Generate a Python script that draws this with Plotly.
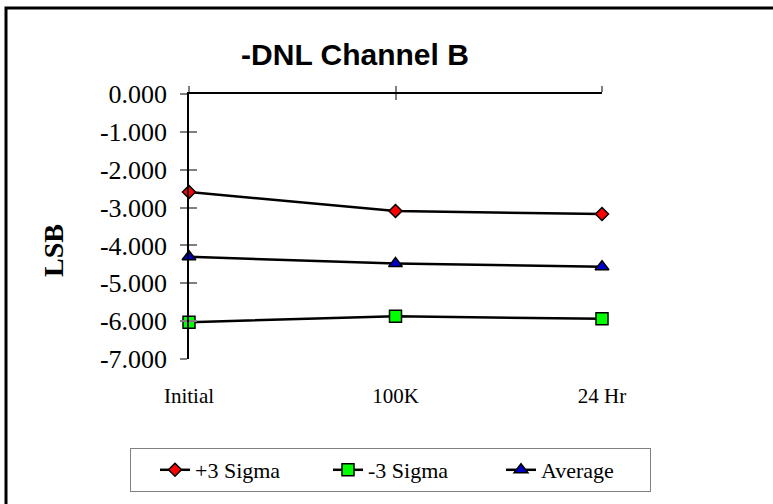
import plotly.graph_objects as go

# data
stages = ["Initial", "100K", "24 Hr"]
plus_3_sigma = [-2.59, -3.09, -3.17]
minus_3_sigma = [-6.03, -5.87, -5.94]
average = [-4.30, -4.48, -4.56]

y_ticks = [0, -1, -2, -3, -4, -5, -6, -7]
y_tick_labels = ["0.000", "-1.000", "-2.000", "-3.000", "-4.000", "-5.000", "-6.000", "-7.000"]

serif = "Liberation Serif, Times New Roman, serif"
W, H = 773, 504
L, R, T, B = 189, 171, 94, 145
pw, ph = W - L - R, H - T - B


def px(x):
    return (x - L) / pw


def py(y):
    return (H - B - y) / ph


def series(name, values, symbol, color, size):
    return go.Scatter(
        x=stages, y=values, name=name, mode="lines+markers",
        line=dict(color="black", width=2.5),
        marker=dict(symbol=symbol, color=color, size=size,
                    line=dict(color="black", width=1.5)),
        cliponaxis=False,
    )


def axis_holder(xa, ya):
    # empty trace so that the overlay axes (crossing tick marks) get drawn
    return go.Scatter(x=stages, y=[None] * len(stages), xaxis=xa, yaxis=ya,
                      mode="lines", showlegend=False, hoverinfo="skip")


fig = go.Figure([
    axis_holder("x2", "y"),
    axis_holder("x3", "y"),
    axis_holder("x", "y2"),
    series("+3 Sigma", plus_3_sigma, "diamond", "#FF0000", 10),
    series("-3 Sigma", minus_3_sigma, "square", "#00FF00", 12),
    series("Average", average, "triangle-up", "#0000C8", 12),
])

tick_gray = "#808080"
fig.update_layout(
    width=W, height=H,
    margin=dict(l=L, r=R, t=T, b=B),
    paper_bgcolor="white", plot_bgcolor="white",
    font=dict(family=serif, color="black"),
    title=dict(text="<b>-DNL Channel B</b>", x=355 / W, y=1 - 54 / H,
               xanchor="center", yanchor="middle",
               font=dict(family="Liberation Sans, Arial, sans-serif", size=30)),
    xaxis=dict(type="category", range=[0, 2], showline=False, showgrid=False,
               zeroline=False, ticks="", tickfont=dict(size=21),
               ticklabelstandoff=22),
    xaxis2=dict(type="category", overlaying="x", anchor="y", side="top",
                range=[0, 2], showline=True, linecolor="black", linewidth=2,
                tickvals=stages, ticks="outside", ticklen=6,
                tickcolor=tick_gray, tickwidth=1.5, showticklabels=False,
                showgrid=False, zeroline=False),
    xaxis3=dict(type="category", overlaying="x", anchor="y", side="top",
                range=[0, 2], showline=False, tickvals=stages, ticks="inside",
                ticklen=6, tickcolor=tick_gray, tickwidth=1.5,
                showticklabels=False, showgrid=False, zeroline=False),
    yaxis=dict(range=[-7, 0], tickvals=y_ticks, ticktext=y_tick_labels,
               showline=True, linecolor="black", linewidth=1.5,
               ticks="outside", ticklen=7, tickcolor=tick_gray, tickwidth=1.5,
               tickfont=dict(size=26), ticklabelstandoff=8,
               showgrid=False, zeroline=False),
    yaxis2=dict(overlaying="y", anchor="x", side="left", range=[-7, 0],
                tickvals=y_ticks, ticks="inside", ticklen=8,
                tickcolor=tick_gray, tickwidth=1.5, showticklabels=False,
                showline=False, showgrid=False, zeroline=False),
    legend=dict(orientation="h", x=px(130), y=py(448), xanchor="left",
                yanchor="top", bordercolor=tick_gray, borderwidth=1,
                font=dict(size=22), entrywidth=104, indentation=24),
    annotations=[dict(text="<b>LSB</b>", textangle=-90, xref="paper",
                      yref="paper", x=px(53), y=py(251), xanchor="center",
                      yanchor="middle", showarrow=False, font=dict(size=28))],
    shapes=[dict(type="rect", xref="paper", yref="paper",
                 x0=px(6), x1=px(800), y0=py(530), y1=py(8),
                 line=dict(color="black", width=3))],
)

fig.write_html("out.html", config={"displayModeBar": False},
               post_script="document.body.style.margin='0';")
